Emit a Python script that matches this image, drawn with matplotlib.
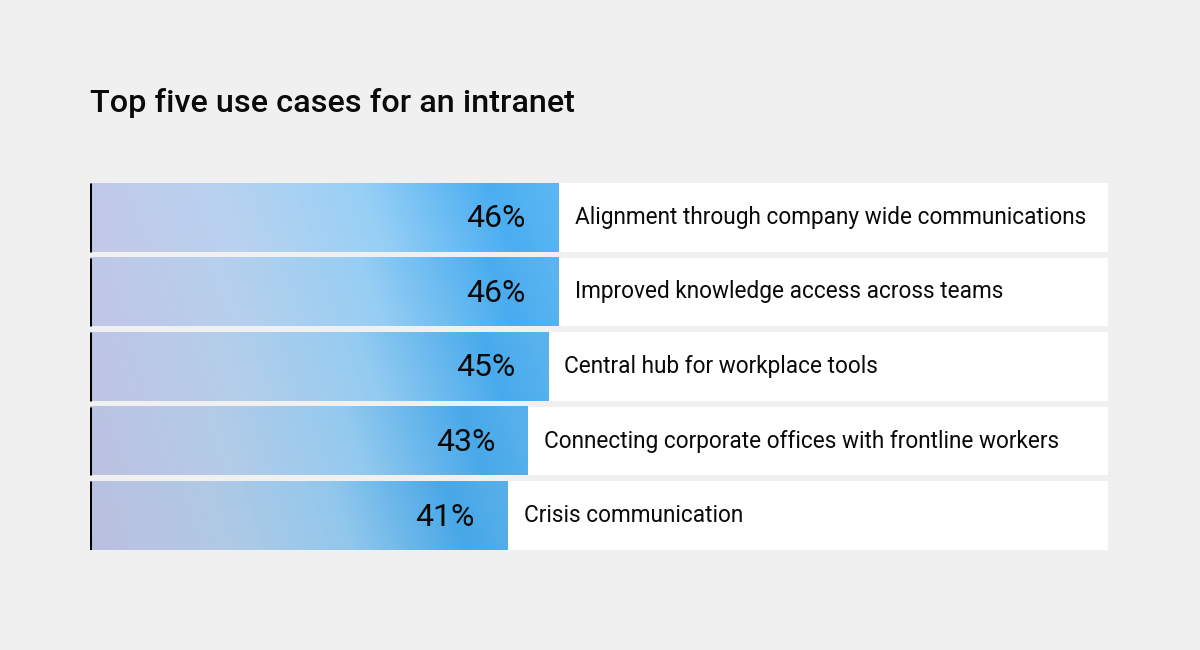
import matplotlib.pyplot as plt
import numpy as np
from matplotlib.colors import LinearSegmentedColormap

# data
categories = [
    'Alignment through company wide communications',
    'Improved knowledge access across teams',
    'Central hub for workplace tools',
    'Connecting corporate offices with frontline workers',
    'Crisis communication',
]
values = [46, 46, 45, 43, 41]
value_labels = ['46%', '46%', '45%', '43%', '41%']
title = 'Top five use cases for an intranet'

BG = '#f0f0f0'
FONT = 'Roboto'

cmap = LinearSegmentedColormap.from_list('bar', [
    (0.0, '#c3c8ea'),
    (0.30, '#b8d2ef'),
    (0.60, '#98d0f6'),
    (0.88, '#4aaef1'),
    (1.0, '#5ab6f3'),
])

fig = plt.figure(figsize=(12, 6.5), dpi=100, facecolor=BG)
ax = fig.add_axes([90 / 1200, 100 / 650, 1018 / 1200, 367 / 650])
ax.set_facecolor(BG)

h = 0.92
n = len(values)
for i, (v, lab, cat) in enumerate(zip(values, value_labels, categories)):
    # white full-width row background
    ax.barh(i, 100, height=h, color='white', zorder=1)
    # gradient bar, a bit diagonal
    xx, yy = np.meshgrid(np.linspace(0, 1, 256), np.linspace(0, 1, 16))
    grad = np.clip(xx - 0.05 * (yy - 0.5), 0, 1)
    shade = 1 - 0.04 * i / (n - 1)
    rgba = cmap(grad)
    rgba[..., :3] *= shade
    ax.imshow(rgba, extent=(0, v, i + h / 2, i - h / 2), aspect='auto',
              zorder=2, interpolation='bilinear')
    ax.plot([0, 0], [i - h / 2, i + h / 2], color='black', lw=2.2,
            solid_capstyle='butt', zorder=3)
    ax.text(v - 3.2, i + 0.02, lab, ha='right', va='center', fontsize=23,
            family=FONT, color='#0a0a0a', zorder=4)
    ax.text(v + 1.6, i, cat, ha='left', va='center', fontsize=16.3,
            family=FONT, color='#0a0a0a', zorder=4)

ax.set_xlim(0, 100)
ax.set_ylim(n - 1 + h / 2, -h / 2)
ax.axis('off')

fig.text(90 / 1200, 1 - 103 / 650, title, ha='left', va='center',
         fontsize=23.3, family=FONT, weight='medium', color='#0a0a0a')

fig.savefig('out.png', dpi=100, facecolor=BG)
